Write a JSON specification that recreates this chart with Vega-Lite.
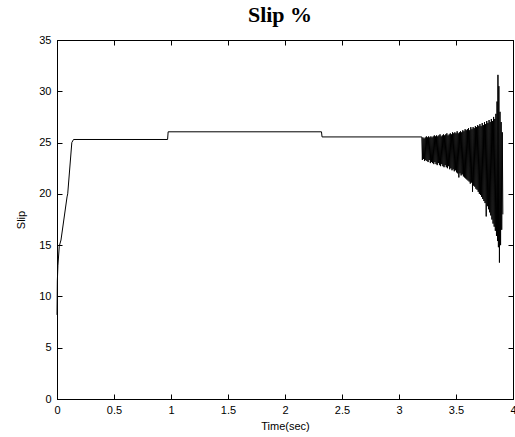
{
  "$schema": "https://vega.github.io/schema/vega-lite/v6.json",
  "width": 456,
  "height": 359,
  "autosize": {"type": "none"},
  "padding": {"left": 57, "top": 40, "right": 2, "bottom": 38},
  "background": "white",
  "title": {
    "text": "Slip %",
    "font": "Liberation Serif",
    "fontSize": 22,
    "fontWeight": "bold",
    "color": "black",
    "frame": "group",
    "anchor": "middle",
    "baseline": "alphabetic",
    "offset": -10,
    "dx": -5
  },
  "config": {
    "view": {"stroke": "black", "strokeWidth": 1},
    "axis": {
      "grid": false,
      "domainColor": "black",
      "tickColor": "black",
      "labelColor": "black",
      "titleColor": "black",
      "labelFont": "Liberation Sans",
      "titleFont": "Liberation Sans",
      "labelFontSize": 11,
      "titleFontSize": 11,
      "titleFontWeight": "normal",
      "tickSize": -5,
      "labelFlush": false,
      "labelOverlap": false
    }
  },
  "data": {
    "values": [
      {"t": 0.0, "slip": 8.2},
      {"t": 0.003, "slip": 11.5},
      {"t": 0.008, "slip": 13.0},
      {"t": 0.02, "slip": 14.9},
      {"t": 0.035, "slip": 15.5},
      {"t": 0.088, "slip": 19.7},
      {"t": 0.094, "slip": 20.0},
      {"t": 0.13, "slip": 25.0},
      {"t": 0.145, "slip": 25.3},
      {"t": 0.97, "slip": 25.3},
      {"t": 0.975, "slip": 26.05},
      {"t": 2.32, "slip": 26.05},
      {"t": 2.325, "slip": 25.55},
      {"t": 3.2, "slip": 25.55},
      {"t": 3.205, "slip": 23.3},
      {"t": 3.21, "slip": 25.5},
      {"t": 3.215, "slip": 23.4},
      {"t": 3.22, "slip": 25.4},
      {"t": 3.225, "slip": 23.2},
      {"t": 3.23, "slip": 25.5},
      {"t": 3.235, "slip": 23.3},
      {"t": 3.24, "slip": 25.6},
      {"t": 3.245, "slip": 23.2},
      {"t": 3.25, "slip": 25.5},
      {"t": 3.255, "slip": 23.1},
      {"t": 3.26, "slip": 25.6},
      {"t": 3.265, "slip": 23.3},
      {"t": 3.27, "slip": 25.5},
      {"t": 3.275, "slip": 23.0},
      {"t": 3.28, "slip": 25.6},
      {"t": 3.285, "slip": 23.1},
      {"t": 3.29, "slip": 25.5},
      {"t": 3.295, "slip": 23.0},
      {"t": 3.3, "slip": 25.6},
      {"t": 3.305, "slip": 22.9},
      {"t": 3.31, "slip": 25.7},
      {"t": 3.315, "slip": 23.1},
      {"t": 3.32, "slip": 25.6},
      {"t": 3.325, "slip": 22.9},
      {"t": 3.33, "slip": 25.7},
      {"t": 3.335, "slip": 22.8},
      {"t": 3.34, "slip": 25.6},
      {"t": 3.345, "slip": 23.0},
      {"t": 3.35, "slip": 25.7},
      {"t": 3.355, "slip": 22.8},
      {"t": 3.36, "slip": 25.8},
      {"t": 3.365, "slip": 22.7},
      {"t": 3.37, "slip": 25.6},
      {"t": 3.375, "slip": 22.9},
      {"t": 3.38, "slip": 25.7},
      {"t": 3.385, "slip": 22.7},
      {"t": 3.39, "slip": 25.8},
      {"t": 3.395, "slip": 22.6},
      {"t": 3.4, "slip": 25.7},
      {"t": 3.405, "slip": 22.8},
      {"t": 3.41, "slip": 25.8},
      {"t": 3.415, "slip": 22.6},
      {"t": 3.42, "slip": 25.9},
      {"t": 3.425, "slip": 22.5},
      {"t": 3.43, "slip": 25.7},
      {"t": 3.435, "slip": 22.7},
      {"t": 3.44, "slip": 25.8},
      {"t": 3.445, "slip": 22.4},
      {"t": 3.45, "slip": 25.9},
      {"t": 3.455, "slip": 22.5},
      {"t": 3.46, "slip": 25.8},
      {"t": 3.465, "slip": 22.3},
      {"t": 3.47, "slip": 26.0},
      {"t": 3.475, "slip": 22.4},
      {"t": 3.48, "slip": 25.9},
      {"t": 3.485, "slip": 22.2},
      {"t": 3.49, "slip": 26.0},
      {"t": 3.495, "slip": 22.3},
      {"t": 3.5, "slip": 25.9},
      {"t": 3.505, "slip": 22.1},
      {"t": 3.51, "slip": 26.1},
      {"t": 3.515, "slip": 22.0},
      {"t": 3.52, "slip": 25.9},
      {"t": 3.525, "slip": 21.6},
      {"t": 3.53, "slip": 26.0},
      {"t": 3.535, "slip": 22.0},
      {"t": 3.54, "slip": 26.1},
      {"t": 3.545, "slip": 21.8},
      {"t": 3.55, "slip": 26.0},
      {"t": 3.555, "slip": 21.9},
      {"t": 3.56, "slip": 26.2},
      {"t": 3.565, "slip": 21.7},
      {"t": 3.57, "slip": 26.1},
      {"t": 3.575, "slip": 21.6},
      {"t": 3.58, "slip": 26.3},
      {"t": 3.585, "slip": 21.5},
      {"t": 3.59, "slip": 26.2},
      {"t": 3.595, "slip": 21.4},
      {"t": 3.6, "slip": 26.3},
      {"t": 3.605, "slip": 21.3},
      {"t": 3.61, "slip": 26.4},
      {"t": 3.615, "slip": 21.2},
      {"t": 3.62, "slip": 26.2},
      {"t": 3.625, "slip": 21.0},
      {"t": 3.63, "slip": 26.5},
      {"t": 3.635, "slip": 21.1},
      {"t": 3.64, "slip": 26.3},
      {"t": 3.645, "slip": 20.2},
      {"t": 3.65, "slip": 26.5},
      {"t": 3.655, "slip": 20.8},
      {"t": 3.66, "slip": 26.4},
      {"t": 3.665, "slip": 20.7},
      {"t": 3.67, "slip": 26.6},
      {"t": 3.675, "slip": 20.5},
      {"t": 3.68, "slip": 26.5},
      {"t": 3.685, "slip": 20.4},
      {"t": 3.69, "slip": 26.7},
      {"t": 3.695, "slip": 20.2},
      {"t": 3.7, "slip": 26.6},
      {"t": 3.705, "slip": 20.0},
      {"t": 3.71, "slip": 26.8},
      {"t": 3.715, "slip": 19.9},
      {"t": 3.72, "slip": 26.6},
      {"t": 3.725, "slip": 19.7},
      {"t": 3.73, "slip": 26.9},
      {"t": 3.735, "slip": 19.5},
      {"t": 3.74, "slip": 26.7},
      {"t": 3.745, "slip": 19.3},
      {"t": 3.75, "slip": 27.0},
      {"t": 3.755, "slip": 19.1},
      {"t": 3.76, "slip": 26.8},
      {"t": 3.765, "slip": 17.8},
      {"t": 3.77, "slip": 27.1},
      {"t": 3.775, "slip": 18.8},
      {"t": 3.78, "slip": 26.9},
      {"t": 3.785, "slip": 18.5},
      {"t": 3.79, "slip": 27.2},
      {"t": 3.795, "slip": 18.2},
      {"t": 3.8, "slip": 27.0},
      {"t": 3.805, "slip": 17.9},
      {"t": 3.81, "slip": 27.3},
      {"t": 3.815, "slip": 17.5},
      {"t": 3.82, "slip": 27.1},
      {"t": 3.825, "slip": 17.1},
      {"t": 3.83, "slip": 27.5},
      {"t": 3.835, "slip": 16.8},
      {"t": 3.84, "slip": 27.3},
      {"t": 3.845, "slip": 16.4},
      {"t": 3.85, "slip": 27.8},
      {"t": 3.855, "slip": 15.9},
      {"t": 3.86, "slip": 29.0},
      {"t": 3.865, "slip": 15.4},
      {"t": 3.868, "slip": 31.6},
      {"t": 3.872, "slip": 14.8},
      {"t": 3.876, "slip": 30.5},
      {"t": 3.881, "slip": 13.3},
      {"t": 3.886, "slip": 28.0},
      {"t": 3.891, "slip": 15.0},
      {"t": 3.896, "slip": 27.0},
      {"t": 3.901, "slip": 16.5},
      {"t": 3.906, "slip": 26.0},
      {"t": 3.911, "slip": 18.0}
    ]
  },
  "layer": [
    {
      "mark": {"type": "line", "color": "black", "strokeWidth": 1, "interpolate": "linear"},
      "encoding": {
        "x": {
          "field": "t", "type": "quantitative",
          "scale": {"domain": [0, 4], "nice": false, "zero": false},
          "axis": {"orient": "bottom", "values": [0, 0.5, 1, 1.5, 2, 2.5, 3, 3.5, 4], "format": "~g", "title": "Time(sec)", "labelPadding": 10, "titlePadding": 5}
        },
        "y": {
          "field": "slip", "type": "quantitative",
          "scale": {"domain": [0, 35], "nice": false, "zero": false},
          "axis": {"orient": "left", "values": [0, 5, 10, 15, 20, 25, 30, 35], "format": "~g", "title": "Slip", "labelPadding": 11, "titlePadding": 12}
        }
      }
    },
    {
      "mark": {"type": "line", "color": "black", "strokeOpacity": 0},
      "encoding": {
        "x": {
          "field": "t", "type": "quantitative",
          "axis": {"orient": "top", "values": [0, 0.5, 1, 1.5, 2, 2.5, 3, 3.5, 4], "labels": false, "title": null}
        },
        "y": {
          "field": "slip", "type": "quantitative",
          "axis": {"orient": "right", "values": [0, 5, 10, 15, 20, 25, 30, 35], "labels": false, "title": null}
        }
      }
    }
  ]
}
